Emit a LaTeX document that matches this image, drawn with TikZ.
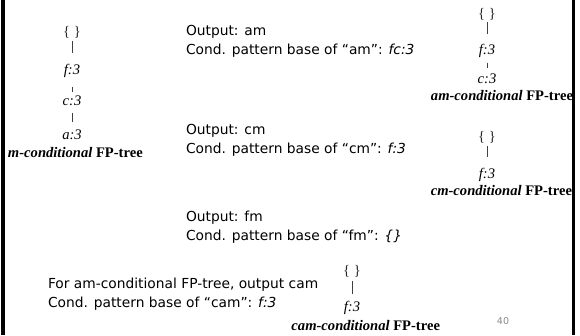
\documentclass[tikz,border=0pt]{standalone}
\usepackage{fontspec}
\setmainfont{Liberation Serif}
\newfontfamily\slidefont{DejaVu Sans}
\begin{document}
\begin{tikzpicture}[x=1pt,y=-1pt,
  every node/.style={inner sep=0pt,outer sep=0pt},
  tnode/.style={font=\fontsize{14.6}{16}\selectfont\itshape},
  troot/.style={font=\fontsize{14.6}{16}\selectfont, text=black!85},
  tlabel/.style={font=\fontsize{14.6}{16}\selectfont\bfseries},
  txt/.style={anchor=west,font=\fontsize{13.8}{16}\selectfont\slidefont},
  edge/.style={draw=black!75,line width=0.8pt}]
\useasboundingbox (0,0) rectangle (580,335);
% slide side bars
\fill[black] (1,0) rectangle (5,335);
\fill[black] (572,0) rectangle (575,335);

% m-conditional FP-tree
\node[troot] (mr) at (72,32) {\{ \}};
\node[tnode] (mf) at (72,71) {f:3};
\node[tnode] (mc) at (72,101) {c:3};
\node[tnode] (ma) at (72,135) {a:3};
\node[tlabel,anchor=west] (ml) at (8,153) {\textit{m-conditional} FP-tree};
\draw[edge,shorten <=3pt,shorten >=11pt] (mr) -- (mf);
\draw[edge,shorten <=9pt,shorten >=4pt] (mf) -- (mc);
\draw[edge,shorten <=7pt,shorten >=8pt] (mc) -- (ma);

% am-conditional FP-tree
\node[troot] (amr) at (487,14) {\{ \}};
\node[tnode] (amf) at (487,51) {f:3};
\node[tnode] (amc) at (487,79) {c:3};
\node[tlabel,anchor=east] (aml) at (573,96) {\textit{am-conditional} FP-tree};
\draw[edge,shorten <=2pt,shorten >=10pt] (amr) -- (amf);
\draw[edge,shorten <=5pt,shorten >=6pt] (amf) -- (amc);

% cm-conditional FP-tree
\node[troot] (cmr) at (487,137) {\{ \}};
\node[tnode] (cmf) at (487,175) {f:3};
\node[tlabel,anchor=east] (cml) at (572,191) {\textit{cm-conditional} FP-tree};
\draw[edge,shorten <=3pt,shorten >=11pt] (cmr) -- (cmf);

% cam-conditional FP-tree
\node[troot] (camr) at (352,271) {\{ \}};
\node[tnode] (camf) at (352,308) {f:3};
\node[tlabel,anchor=east] (caml) at (440,326) {\textit{cam-conditional} FP-tree};
\draw[edge,shorten <=4pt,shorten >=7pt] (camr) -- (camf);

% mining steps
\node[txt] (o1) at (186,32) {Output: am};
\node[txt] (b1) at (186,51) {Cond. pattern base of “am”: \textit{fc:3}};
\node[txt] (o2) at (186,131) {Output: cm};
\node[txt] (b2) at (186,150) {Cond. pattern base of “cm”: \textit{f:3}};
\node[txt] (o3) at (186,218) {Output: fm};
\node[txt] (b3) at (186,237) {Cond. pattern base of “fm”: \textit{\{\}}};
\node[txt] (o4) at (48,285) {For am-conditional FP-tree, output cam};
\node[txt] (b4) at (48,304) {Cond. pattern base of “cam”: \textit{f:3}};

% page number
\node[font=\fontsize{9.5}{11}\selectfont\slidefont,text=black!45] (pg) at (503,321) {40};
\end{tikzpicture}
\end{document}
